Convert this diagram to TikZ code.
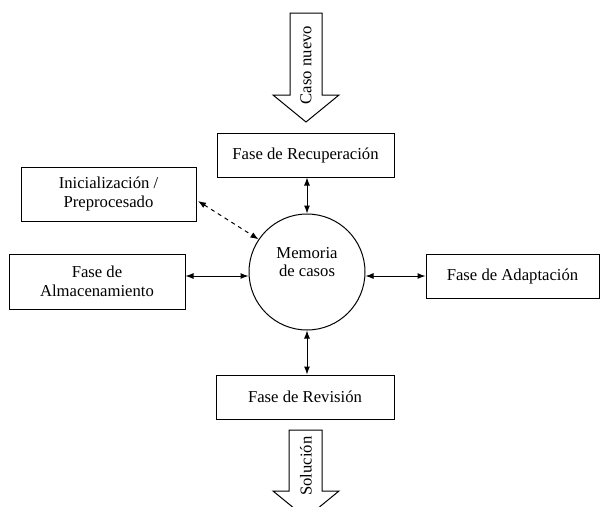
\documentclass[tikz,border=0pt]{standalone}
\usepackage{fontspec}
\setmainfont{Liberation Serif}
\usetikzlibrary{arrows.meta}
\begin{document}
\begin{tikzpicture}[x=0.75pt,y=-0.75pt,
    fase/.style={draw,line width=0.75pt,align=center,inner sep=0pt,
        font=\fontsize{12.5}{14}\selectfont},
    flecha/.style={line width=0.75pt,{Latex[length=6pt,width=4.5pt]}-{Latex[length=6pt,width=4.5pt]}},
    bigarrow/.style={draw,line width=0.75pt,fill=white}]
                \useasboundingbox (0,0) rectangle (600,507);
                % entrada y salida
                \draw[bigarrow] (290,13) -- (322,13) -- (322,95) -- (339,95) -- (306,122) -- (273,95) -- (290,95) -- cycle;
                \node[rotate=90,font=\fontsize{12.5}{14}\selectfont] (caso) at (306,65) {Caso nuevo};
                \draw[bigarrow] (289,430) -- (322,430) -- (322,491) -- (339,491) -- (306,518) -- (273,491) -- (289,491) -- cycle;
                \node[rotate=90,font=\fontsize{12.5}{14}\selectfont] (sol) at (306,466) {Solución};
                % memoria
                \node[draw,circle,line width=0.75pt,minimum size=87pt,inner sep=0pt] (mem) at (307,272) {};
                \node[align=center,font=\fontsize{12.5}{14}\selectfont] (memtxt) at (307,262) {Memoria\\de casos};
                % fases
                \node[fase,minimum width=132.75pt,minimum height=33pt] (rec) at (305.5,155) {Fase de Recuperación};
                \node[fase,minimum width=131.25pt,minimum height=40.5pt] (ini) at (108.5,194) {Inicialización /\\Preprocesado};
                \node[fase,minimum width=132pt,minimum height=41.25pt] (alm) at (97,281.5) {Fase de\\Almacenamiento};
                \node[fase,minimum width=129.75pt,minimum height=33pt] (ada) at (512.5,276) {Fase de Adaptación};
                \node[fase,minimum width=133.5pt,minimum height=33pt] (rev) at (305,397) {Fase de Revisión};
                % conexiones
                \draw[flecha] (rec.south -| mem.north) -- (mem.north);
                \draw[flecha] (mem.south) -- (rev.north -| mem.south);
                \draw[flecha] (alm.east |- 0,276) -- (mem.west |- 0,276);
                \draw[flecha] (mem.east |- 0,276) -- (ada.west |- 0,276);
                \coordinate (inisal) at (198,201);
                \draw[flecha,dashed] (inisal) -- (mem.146);
            \end{tikzpicture}
\end{document}
